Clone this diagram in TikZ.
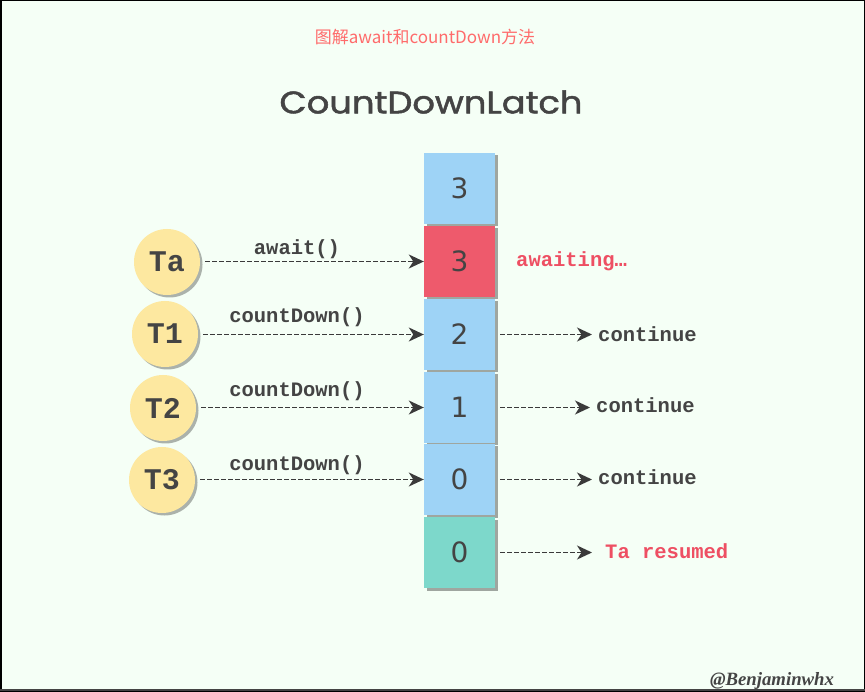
\documentclass[tikz,border=0pt]{standalone}
\usepackage{fontspec}
\usepackage{graphicx}
\setmainfont{Liberation Sans}
\newfontfamily\monof{Liberation Mono}
\newfontfamily\cjkf{Noto Sans CJK SC}
\newfontfamily\handf[FakeBold=1.5]{Poppins}
\newfontfamily\digitf{DejaVu Sans}
\newfontfamily\wmf{Liberation Serif}
\usetikzlibrary{shadows,arrows.meta}
\definecolor{bgc}{HTML}{F5FFF6}
\definecolor{cblue}{HTML}{9ED3F6}
\definecolor{cred}{HTML}{EE5A6C}
\definecolor{cteal}{HTML}{7DD8CB}
\definecolor{cyellow}{HTML}{FDE8A0}
\definecolor{textc}{HTML}{444444}
\definecolor{redtext}{HTML}{EE4F63}
\definecolor{titlered}{HTML}{FF6B6B}
\definecolor{arrc}{HTML}{3A3A3A}
\tikzset{
  cellbox/.style={rectangle, minimum width=71pt, minimum height=71pt, inner sep=0pt,
    text=textc, font=\digitf\fontsize{28}{28}\selectfont,
    drop shadow={shadow xshift=2.5pt, shadow yshift=-2.5pt, opacity=0.35, fill=black}},
  thread/.style={circle, fill=cyellow, minimum size=66pt, inner sep=0pt,
    text=textc, font=\monof\bfseries\fontsize{30}{30}\selectfont,
    drop shadow={shadow xshift=2.5pt, shadow yshift=-2.5pt, opacity=0.3, fill=black}},
  conn/.style={draw=arrc, line width=1.6pt, dash pattern=on 4.5pt off 2.5pt,
    -{Stealth[length=15pt,width=14pt,inset=4.5pt]}},
  lbl/.style={inner sep=0pt, anchor=base, text=textc, font=\monof\bfseries\fontsize{20.5}{20.5}\selectfont},
  rlbl/.style={lbl, anchor=base west},
  redlbl/.style={rlbl, text=redtext}
}
\begin{document}
\begin{tikzpicture}[x=1pt,y=-1pt]
\fill[bgc] (0,0) rectangle (865,692);
\useasboundingbox (0,0) rectangle (865,692);
\draw[black, line width=1.5pt] (0.75,0.75) rectangle (864.25,691.25);
\draw[textc, line width=2pt] (0,690) -- (865,690);

\node[text=titlered, font=\cjkf\fontsize{17}{17}\selectfont, inner sep=0pt] (title) at (425,37) {图解await和countDown方法};
\node[text=textc, inner sep=0pt] (head) at (431,102) {\resizebox{303pt}{23pt}{\handf CountDownLatch}};

\node[cellbox, fill=cblue] (b1) at (459.5,188.5) {3};
\node[cellbox, fill=cred] (b2) at (459.5,261.5) {3};
\node[cellbox, fill=cblue] (b3) at (459.5,334.5) {2};
\node[cellbox, fill=cblue] (b4) at (459.5,407.5) {1};
\node[cellbox, fill=cblue] (b5) at (459.5,479.5) {0};
\node[cellbox, fill=cteal] (b6) at (459.5,552.5) {0};

\node[thread] (ta) at (167,262) {Ta};
\node[thread] (t1) at (165,334) {T1};
\node[thread] (t2) at (163,408) {T2};
\node[thread] (t3) at (162,480) {T3};

\draw[conn, shorten <=5pt] (ta.east |- b2.west) -- (b2.west);
\draw[conn, shorten <=5pt] (t1.east |- b3.west) -- (b3.west);
\draw[conn, shorten <=5pt] (t2.east |- b4.west) -- (b4.west);
\draw[conn, shorten <=5pt] (t3.east |- b5.west) -- (b5.west);

\node[lbl] (la) at (297,255) {await()};
\node[lbl] (l1) at (297,323) {countDown()};
\node[lbl] (l2) at (297,397) {countDown()};
\node[lbl] (l3) at (297,471) {countDown()};

\node[redlbl] (aw) at (516,267) {awaiting…};
\node[rlbl] (c3) at (598,342) {continue};
\node[rlbl] (c4) at (596,413) {continue};
\node[rlbl] (c5) at (598,484) {continue};
\node[redlbl] (c6) at (605,558) {Ta resumed};

\draw[conn, shorten <=5pt, shorten >=6pt] (b3.east) -- (b3.east -| c3.west);
\draw[conn, shorten <=5pt, shorten >=6pt] (b4.east) -- (b4.east -| c4.west);
\draw[conn, shorten <=5pt, shorten >=6pt] (b5.east) -- (b5.east -| c5.west);
\draw[conn, shorten <=5pt, shorten >=13pt] (b6.east) -- (b6.east -| c6.west);

\node[text=textc, inner sep=0pt] (wm) at (772,681) {\resizebox{124pt}{!}{\wmf\bfseries\itshape @Benjaminwhx}};
\end{tikzpicture}
\end{document}
